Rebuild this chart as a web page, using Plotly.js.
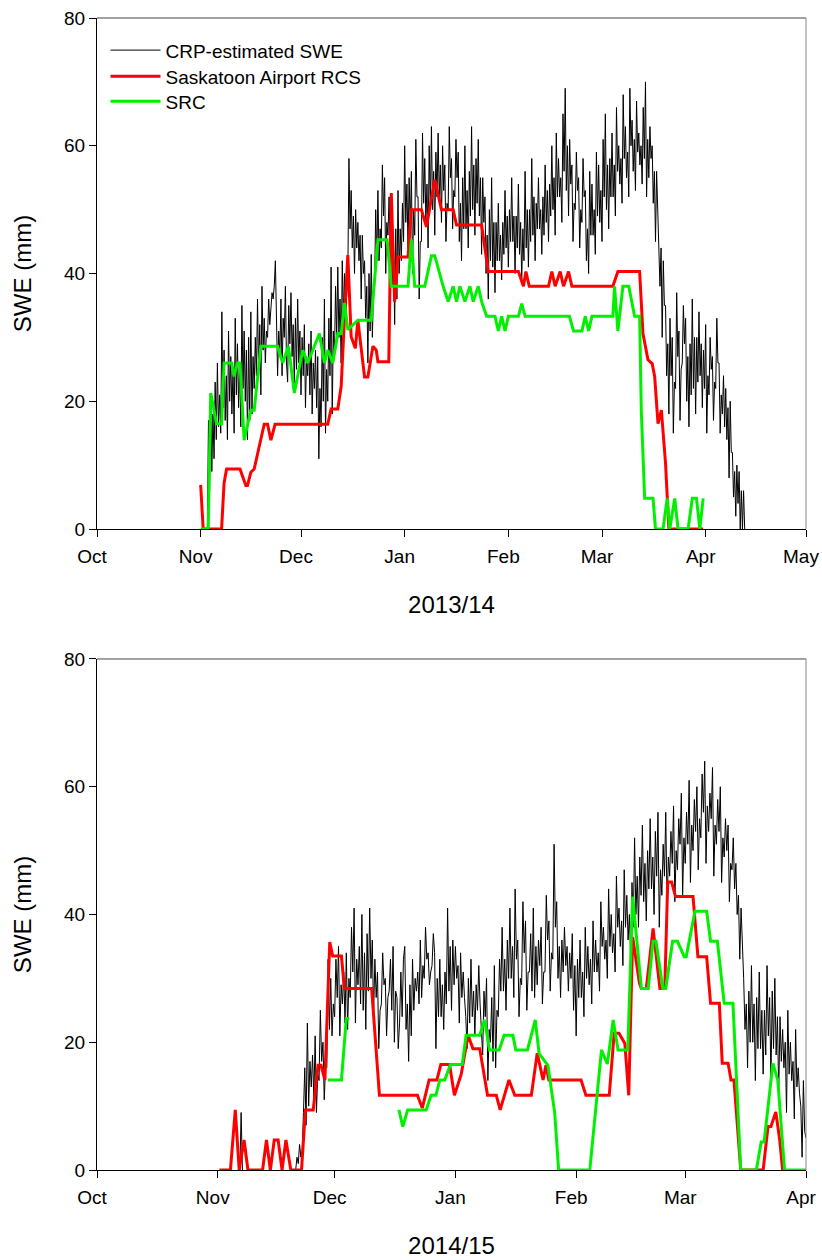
<!DOCTYPE html>
<html>
<head>
<meta charset="utf-8">
<title>CRP-estimated SWE vs. gauge SWE, Saskatoon</title>
<script src="https://cdn.plot.ly/plotly-3.0.1.min.js"></script>
<style>
  html, body { margin: 0; padding: 0; background: #ffffff; }
  #chart { width: 822px; height: 1260px; }
</style>
</head>
<body>
<div id="chart"></div>
<script>
// ---------------------------------------------------------------------------
// Axis ticks
// ---------------------------------------------------------------------------
const monthTicks1314 = ['2013-10-01', '2013-11-01', '2013-12-01', '2014-01-01', '2014-02-01', '2014-03-01', '2014-04-01', '2014-05-01'];
const monthLabels1314 = ['Oct', 'Nov', 'Dec', 'Jan', 'Feb', 'Mar', 'Apr', 'May'];
const monthTicks1415 = ['2014-10-01', '2014-11-01', '2014-12-01', '2015-01-01', '2015-02-01', '2015-03-01', '2015-04-01'];
const monthLabels1415 = ['Oct', 'Nov', 'Dec', 'Jan', 'Feb', 'Mar', 'Apr'];
const sweTicks = [0, 20, 40, 60, 80];

// ---------------------------------------------------------------------------
// CRP-estimated SWE (mm), 8-hourly readings (three per day)
// ---------------------------------------------------------------------------
const crpStepHours = 8;

const crpStart1314 = '2013-11-03 00:00';
const crpSwe1314 = [
  // Nov 3 - Nov 12
  0, 17, 6,  21, 9, 18,  11, 23, 14,  26, 16, 21,  15, 34, 19,
  28, 17, 24,  14, 31, 20,  27, 18, 25,  15, 33, 21,  29, 19, 26,
  // Nov 13 - Nov 22
  16, 35, 22,  31, 20, 28,  14, 30, 17,  34, 18, 27,  22, 30, 24,
  36, 24, 32,  21, 38, 28,  33, 26, 31,  30, 36, 32,  35, 37, 36,
  // Nov 23 - Dec 2
  38, 42, 29,  24, 31, 27,  36, 24, 33,  30, 38, 26,  23, 35, 29,
  37, 27, 32,  22, 33, 25,  36, 26, 31,  21, 30, 24,  32, 19, 27,
  // Dec 3 - Dec 12
  24, 29, 21,  31, 18, 26,  22, 28, 19,  27, 11, 22,  16, 30, 20,
  36, 15, 25,  20, 33, 24,  41, 18, 31,  27, 38, 30,  41, 30, 36,
  // Dec 13 - Dec 22
  26, 42, 33,  40, 33, 38,  40, 58, 47,  53, 44, 49,  40, 50, 44,
  48, 42, 46,  36, 46, 40,  42, 33, 38,  26, 40, 31,  43, 30, 37,
  // Dec 23 - Jan 1
  38, 50, 42,  53, 42, 47,  44, 57, 49,  55, 40, 48,  46, 52, 44,
  50, 38, 45,  32, 47, 36,  53, 40, 47,  42, 51, 45,  60, 48, 54,
  // Jan 2 - Jan 11
  44, 55, 47,  56, 40, 50,  46, 61, 52,  52, 36, 45,  45, 62, 51,
  58, 48, 54,  44, 60, 50,  63, 50, 56,  46, 59, 52,  62, 52, 57,
  // Jan 12 - Jan 21
  48, 60, 53,  57, 45, 51,  50, 63, 55,  58, 47, 53,  52, 61, 55,
  59, 45, 51,  42, 55, 47,  60, 47, 53,  44, 56, 49,  63, 50, 57,
  // Jan 22 - Jan 31
  46, 58, 51,  61, 49, 55,  43, 55, 48,  52, 40, 46,  36, 50, 42,
  55, 41, 48,  37, 48, 42,  51, 42, 46,  39, 48, 43,  53, 44, 49,
  // Feb 1 - Feb 10
  41, 50, 45,  55, 45, 49,  40, 49, 44,  54, 43, 48,  39, 47, 42,
  56, 44, 50,  41, 50, 45,  58, 46, 52,  42, 51, 47,  55, 47, 50,
  // Feb 11 - Feb 20
  43, 52, 46,  57, 48, 53,  45, 54, 49,  60, 50, 55,  46, 62, 52,
  58, 52, 55,  48, 65, 56,  69, 53, 60,  49, 61, 54,  57, 45, 51,
  // Feb 21 - Mar 2
  50, 59, 53,  55, 44, 50,  48, 58, 52,  53, 42, 47,  40, 56, 46,
  54, 46, 50,  43, 59, 49,  57, 48, 53,  45, 61, 52,  65, 50, 57,
  // Mar 3 - Mar 12
  47, 58, 52,  62, 52, 57,  49, 66, 56,  60, 54, 58,  51, 68, 58,
  63, 55, 59,  52, 69, 60,  64, 56, 61,  53, 67, 59,  62, 57, 60,
  // Mar 13 - Mar 22
  54, 66, 58,  70, 52, 61,  55, 63, 58,  60, 51, 56,  45, 56, 50,
  48, 38, 44,  30, 42, 35,  35, 24, 29,  18, 33, 24,  30, 15, 23,
  // Mar 23 - Apr 1
  22, 37, 27,  31, 17, 25,  26, 35, 29,  33, 20, 27,  16, 29, 21,
  36, 22, 30,  18, 30, 23,  34, 24, 29,  19, 28, 22,  32, 15, 24,
  // Apr 2 - Apr 12
  21, 30, 25,  27, 17, 23,  22, 33, 26,  26, 15, 21,  18, 24, 16,
  22, 14, 19,  8, 20, 12,  12, 5, 9,  2, 10, 4,  9, 0, 6,
  0, 6, 0
];

const crpStart1415Early = '2014-11-06 16:00';
const crpSwe1415Early = [0, 9, 0];

const crpStart1415 = '2014-11-21 00:00';
const crpSwe1415 = [
  // Nov 21 - Nov 30
  0, 2, 1,  4, 2, 3,  9, 16, 7,  23, 10, 17,  13, 18, 11,
  21, 9, 15,  14, 25, 17,  20, 11, 16,  16, 33, 22,  30, 21, 26,
  // Dec 1 - Dec 10
  24, 33, 27,  35, 21, 29,  26, 31, 23,  34, 22, 30,  27, 38, 31,
  41, 23, 33,  29, 35, 26,  40, 25, 34,  22, 37, 28,  41, 30, 36,
  // Dec 11 - Dec 20
  24, 33, 27,  31, 19, 25,  26, 34, 29,  30, 21, 27,  28, 33, 25,
  35, 20, 28,  27, 19, 23,  31, 24, 33,  35, 22, 26,  17, 29, 21,
  // Dec 21 - Dec 30
  33, 25, 30,  28, 31, 26,  36, 27, 32,  30, 38, 33,  34, 29, 31,
  32, 37, 34,  19, 30, 24,  33, 24, 29,  22, 31, 26,  41, 28, 35,
  // Dec 31 - Jan 9
  25, 36, 29,  35, 30, 32,  23, 34, 27,  31, 27, 24,  19, 30, 23,
  33, 24, 28,  21, 29, 25,  32, 26, 22,  18, 28, 24,  30, 14, 22,
  // Jan 10 - Jan 19
  20, 27, 17,  32, 16, 25,  24, 33, 28,  38, 28, 33,  25, 36, 30,
  41, 30, 35,  27, 44, 33,  36, 24, 30,  29, 42, 34,  39, 25, 31,
  // Jan 20 - Jan 29
  31, 37, 28,  41, 27, 35,  29, 36, 32,  38, 26, 31,  31, 43, 36,
  39, 28, 34,  33, 51, 38,  42, 30, 35,  27, 36, 31,  38, 32, 35,
  // Jan 30 - Feb 8
  28, 34, 30,  37, 25, 32,  21, 33, 27,  36, 27, 31,  24, 38, 30,
  35, 29, 33,  26, 39, 31,  36, 31, 34,  28, 42, 35,  38, 33, 36,
  // Feb 9 - Feb 18
  30, 44, 35,  40, 34, 37,  31, 46, 38,  41, 35, 39,  32, 47, 38,
  43, 36, 40,  33, 45, 38,  52, 40, 46,  38, 49, 43,  54, 42, 48,
  // Feb 19 - Feb 28
  39, 50, 44,  55, 44, 49,  40, 53, 46,  56, 38, 47,  43, 51, 46,
  56, 41, 49,  46, 53, 48,  57, 42, 50,  47, 55, 51,  59, 43, 52,
  // Mar 1 - Mar 10
  48, 56, 51,  61, 45, 54,  50, 58, 53,  60, 47, 55,  52, 62, 56,
  64, 48, 57,  53, 59, 55,  63, 46, 54,  51, 58, 53,  60, 45, 52,
  // Mar 11 - Mar 20
  49, 55, 50,  54, 42, 48,  47, 52, 44,  48, 40, 43,  33, 41, 36,
  30, 22, 26,  16, 28, 20,  32, 20, 26,  14, 27, 19,  31, 19, 25,
  // Mar 21 - Mar 31
  15, 25, 18,  32, 21, 27,  14, 28, 19,  30, 18, 24,  12, 24, 17,
  22, 16, 20,  9, 25, 15,  20, 14, 17,  8, 22, 13,  16, 12, 10,
  2, 14, 6,
  // Apr 1
  5
];

// ---------------------------------------------------------------------------
// Saskatoon Airport RCS SWE (mm)
// ---------------------------------------------------------------------------
const rcsDates1314 = [
  '2013-11-01 00:00', '2013-11-01 18:00', '2013-11-07 06:00', '2013-11-08 00:00', '2013-11-08 18:00',
  '2013-11-12 18:00', '2013-11-14 12:00', '2013-11-15 00:00', '2013-11-16 00:00', '2013-11-17 00:00',
  '2013-11-20 00:00', '2013-11-21 00:00', '2013-11-22 00:00', '2013-11-23 06:00', '2013-12-09 00:00',
  '2013-12-10 00:00', '2013-12-12 00:00', '2013-12-13 00:00', '2013-12-14 00:00', '2013-12-15 00:00',
  '2013-12-16 00:00', '2013-12-17 06:00', '2013-12-18 00:00', '2013-12-20 00:00', '2013-12-21 00:00',
  '2013-12-22 12:00', '2013-12-23 12:00', '2013-12-24 00:00', '2013-12-27 06:00', '2013-12-28 00:00',
  '2013-12-29 00:00', '2013-12-30 00:00', '2014-01-02 00:00', '2014-01-03 00:00', '2014-01-06 00:00',
  '2014-01-07 12:00', '2014-01-10 00:00', '2014-01-12 00:00', '2014-01-15 12:00', '2014-01-16 12:00',
  '2014-01-24 00:00', '2014-01-26 00:00', '2014-02-04 00:00', '2014-02-05 12:00', '2014-02-06 06:00',
  '2014-02-07 06:00', '2014-02-13 00:00', '2014-02-14 00:00', '2014-02-15 00:00', '2014-02-16 12:00',
  '2014-02-17 12:00', '2014-02-19 00:00', '2014-02-20 00:00', '2014-03-04 06:00', '2014-03-05 18:00',
  '2014-03-12 06:00', '2014-03-13 06:00', '2014-03-14 18:00', '2014-03-16 00:00', '2014-03-16 18:00',
  '2014-03-17 18:00', '2014-03-18 18:00', '2014-03-20 00:00', '2014-03-20 12:00', '2014-03-21 00:00',
  '2014-03-31 06:00'
];
const rcsSwe1314 = [
  6.9, 0, 0, 7.2, 9.4,
  9.4, 6.8, 6.8, 8.9, 9.4,
  16.4, 16.4, 13.9, 16.4, 16.4,
  18.8, 18.8, 22.3, 33, 42.9,
  30.1, 28.3, 32.7, 23.8, 23.8,
  28.6, 28, 26.2, 26.2, 52.6,
  35.6, 42.6, 42.6, 50, 50,
  47.3, 54.7, 50, 50, 47.6,
  47.6, 40.3, 40.3, 38, 40.3,
  38, 38, 40.3, 38, 40.3,
  38, 40.3, 38, 38, 40.3,
  40.3, 30.6, 26.5, 25.9, 23.9,
  16.5, 18.6, 10.3, 4.5, 0,
  0
];

const rcsDates1415 = [
  '2014-11-01 10:00', '2014-11-04 06:00', '2014-11-05 12:00', '2014-11-06 12:00', '2014-11-07 18:00',
  '2014-11-08 18:00', '2014-11-12 12:00', '2014-11-13 12:00', '2014-11-14 12:00', '2014-11-15 12:00',
  '2014-11-16 12:00', '2014-11-17 12:00', '2014-11-18 12:00', '2014-11-19 18:00', '2014-11-22 12:00',
  '2014-11-23 12:00', '2014-11-25 12:00', '2014-11-26 18:00', '2014-11-27 12:00', '2014-11-28 12:00',
  '2014-11-29 18:00', '2014-11-30 12:00', '2014-12-02 18:00', '2014-12-03 12:00', '2014-12-10 12:00',
  '2014-12-12 12:00', '2014-12-22 06:00', '2014-12-23 12:00', '2014-12-25 06:00', '2014-12-27 06:00',
  '2014-12-28 06:00', '2014-12-30 12:00', '2014-12-31 18:00', '2015-01-02 12:00', '2015-01-04 06:00',
  '2015-01-05 12:00', '2015-01-07 06:00', '2015-01-09 06:00', '2015-01-11 12:00', '2015-01-12 12:00',
  '2015-01-14 18:00', '2015-01-16 06:00', '2015-01-20 12:00', '2015-01-22 00:00', '2015-01-23 12:00',
  '2015-01-24 06:00', '2015-01-25 00:00', '2015-02-02 06:00', '2015-02-03 12:00', '2015-02-09 12:00',
  '2015-02-10 18:00', '2015-02-12 00:00', '2015-02-13 12:00', '2015-02-14 12:00', '2015-02-15 12:00',
  '2015-02-17 06:00', '2015-02-17 18:00', '2015-02-19 00:00', '2015-02-20 18:00', '2015-02-22 12:00',
  '2015-02-23 18:00', '2015-02-24 12:00', '2015-02-25 12:00', '2015-02-26 12:00', '2015-03-03 00:00',
  '2015-03-04 06:00', '2015-03-06 12:00', '2015-03-07 12:00', '2015-03-09 18:00', '2015-03-10 12:00',
  '2015-03-12 00:00', '2015-03-12 18:00', '2015-03-13 12:00', '2015-03-15 06:00', '2015-03-21 00:00',
  '2015-03-22 06:00', '2015-03-23 00:00', '2015-03-24 06:00', '2015-03-25 06:00', '2015-03-26 00:00'
];
const rcsSwe1415 = [
  0, 0, 9.4, 0, 4.7,
  0, 0, 4.7, 0, 4.7,
  4.7, 0, 4.7, 0, 0,
  9.4, 9.4, 16.4, 16.4, 14.1,
  35.7, 33.5, 33.5, 28.4, 28.4,
  11.7, 11.7, 9.7, 14.1, 14.1,
  16.5, 16.5, 11.7, 15, 21.1,
  19, 19, 11.7, 11.7, 9.4,
  14.1, 11.7, 11.7, 18.3, 14.1,
  16.4, 14.1, 14.1, 11.7, 11.7,
  21.4, 21.4, 19.8, 11.7, 36.5,
  29.2, 28.4, 28.4, 37.8, 28.4,
  28.4, 45.1, 45.1, 42.8, 42.8,
  33.4, 33.4, 26.1, 26.1, 16.7,
  16.7, 14.1, 14.1, 0, 0,
  6.8, 6.8, 9.1, 4.7, 0
];

// ---------------------------------------------------------------------------
// SRC SWE (mm); null marks a break in the record
// ---------------------------------------------------------------------------
const srcDates1314 = [
  '2013-11-01 00:00', '2013-11-03 06:00', '2013-11-04 00:00', '2013-11-05 18:00', '2013-11-07 06:00',
  '2013-11-08 00:00', '2013-11-10 06:00', '2013-11-11 00:00', '2013-11-12 00:00', '2013-11-12 18:00',
  '2013-11-14 00:00', '2013-11-16 00:00', '2013-11-17 00:00', '2013-11-19 00:00', '2013-11-24 00:00',
  '2013-11-25 12:00', '2013-11-27 06:00', '2013-11-29 00:00', '2013-12-01 12:00', '2013-12-03 00:00',
  '2013-12-06 12:00', '2013-12-08 00:00', '2013-12-09 00:00', '2013-12-10 12:00', '2013-12-12 00:00',
  '2013-12-13 00:00', '2013-12-14 00:00', '2013-12-15 00:00', '2013-12-18 00:00', '2013-12-22 00:00',
  '2013-12-24 00:00', '2013-12-26 18:00', '2013-12-28 00:00', '2014-01-02 00:00', '2014-01-03 00:00',
  '2014-01-04 00:00', '2014-01-07 00:00', '2014-01-09 00:00', '2014-01-10 00:00', '2014-01-12 12:00',
  '2014-01-14 00:00', '2014-01-15 12:00', '2014-01-16 12:00', '2014-01-17 12:00', '2014-01-19 00:00',
  '2014-01-20 12:00', '2014-01-21 12:00', '2014-01-23 00:00', '2014-01-24 00:00', '2014-01-25 12:00',
  '2014-01-28 00:00', '2014-01-29 00:00', '2014-01-30 00:00', '2014-01-31 00:00', '2014-02-01 00:00',
  '2014-02-04 00:00', '2014-02-05 00:00', '2014-02-06 00:00', '2014-02-19 06:00', '2014-02-20 12:00',
  '2014-02-23 00:00', '2014-02-24 00:00', '2014-02-25 00:00', '2014-02-26 00:00', '2014-03-04 06:00',
  '2014-03-04 18:00', '2014-03-05 18:00', '2014-03-07 06:00', '2014-03-09 00:00', '2014-03-10 18:00',
  '2014-03-12 06:00', '2014-03-12 18:00', '2014-03-13 18:00', '2014-03-16 06:00', '2014-03-17 00:00',
  '2014-03-19 06:00', '2014-03-20 12:00', '2014-03-21 06:00', '2014-03-22 18:00', '2014-03-23 18:00',
  '2014-03-26 18:00', '2014-03-28 00:00', '2014-03-29 06:00', '2014-03-30 06:00', '2014-03-31 06:00'
];
const srcSwe1314 = [
  0, 0, 21.3, 16.5, 16.5,
  26, 26, 23.9, 26, 26,
  13.9, 18.6, 18.6, 28.6, 28.6,
  26, 28.6, 21.3, 28, 26,
  30.6, 26, 28, 26, 30.6,
  30.6, 35.4, 31.2, 32.7, 32.7,
  45.3, 45.3, 38, 38, 45.3,
  38, 38, 42.8, 42.8, 38,
  35.6, 38, 35.6, 38, 35.6,
  38, 35.6, 38, 35.6, 33.3,
  33.3, 31, 33.3, 31, 33.3,
  33.3, 35.3, 33.3, 33.3, 31,
  31, 33.3, 31, 33.3, 33.3,
  38, 31, 38, 38, 33.3,
  33.3, 18.6, 4.8, 4.8, 0,
  0, 4.8, 0, 4.8, 0,
  0, 4.8, 4.8, 0, 4.8
];

const srcDates1415 = [
  '2014-11-29 06:00', '2014-12-02 18:00', '2014-12-04 00:00', '2014-12-04 18:00', '2014-12-10 00:00',
  '2014-12-17 12:00', '2014-12-18 12:00', '2014-12-19 18:00', '2014-12-24 12:00', '2014-12-25 18:00',
  '2014-12-27 00:00', '2014-12-28 00:00', '2014-12-29 06:00', '2014-12-30 18:00', '2015-01-02 18:00',
  '2015-01-03 18:00', '2015-01-07 06:00', '2015-01-08 12:00', '2015-01-09 18:00', '2015-01-12 06:00',
  '2015-01-13 12:00', '2015-01-15 18:00', '2015-01-16 12:00', '2015-01-19 12:00', '2015-01-21 12:00',
  '2015-01-22 12:00', '2015-01-24 18:00', '2015-01-26 12:00', '2015-01-27 12:00', '2015-02-04 12:00',
  '2015-02-07 12:00', '2015-02-09 00:00', '2015-02-10 12:00', '2015-02-11 18:00', '2015-02-14 06:00',
  '2015-02-15 12:00', '2015-02-17 18:00', '2015-02-19 12:00', '2015-02-20 18:00', '2015-02-21 12:00',
  '2015-02-23 06:00', '2015-02-24 00:00', '2015-02-25 18:00', '2015-02-27 00:00', '2015-02-28 18:00',
  '2015-03-01 06:00', '2015-03-03 12:00', '2015-03-06 12:00', '2015-03-07 12:00', '2015-03-09 06:00',
  '2015-03-11 00:00', '2015-03-13 06:00', '2015-03-15 06:00', '2015-03-19 06:00', '2015-03-20 12:00',
  '2015-03-21 06:00', '2015-03-23 12:00', '2015-03-24 18:00', '2015-03-26 12:00', '2015-04-01 00:00'
];
const srcSwe1415 = [
  14.1, 14.1, 23.7, 23.7, null,
  9.4, 6.8, 9.4, 9.4, 11.7,
  11.7, 14.1, 14.1, 16.5, 16.5,
  21.1, 21.1, 23.5, 18.8, 18.8,
  21.1, 21.1, 18.8, 18.8, 23.5,
  18.2, 16.4, 8.9, 0, 0,
  18.8, 16.6, 23.5, 18.8, 18.8,
  42.8, 28.4, 28.4, 35.8, 35.8,
  28.4, 28.4, 35.8, 35.8, 33.4,
  33.4, 40.5, 40.5, 35.8, 35.8,
  26.1, 26.1, 0, 0, 4.4,
  4.4, 16.7, 14.1, 0, 0
];

// ---------------------------------------------------------------------------
// Helpers and styles
// ---------------------------------------------------------------------------
function stepDates(start, n, hours) {
  const t0 = Date.parse(start.replace(' ', 'T') + ':00Z');
  const out = [];
  for (let i = 0; i < n; i++) {
    out.push(new Date(t0 + i * hours * 3600000).toISOString().slice(0, 16).replace('T', ' '));
  }
  return out;
}

const FONT = '"Liberation Sans", Arial, Helvetica, sans-serif';
const CRP_LINE = { color: '#000000', width: 1 };
const RCS_LINE = { color: '#ff0000', width: 3 };
const SRC_LINE = { color: '#00f000', width: 3 };

const NAMES = ['CRP-estimated SWE', 'Saskatoon Airport RCS', 'SRC'];

const data = [
  // 2013/14
  { type: 'scatter', mode: 'lines', name: NAMES[0], xaxis: 'x', yaxis: 'y', legend: 'legend',
    x: stepDates(crpStart1314, crpSwe1314.length, crpStepHours), y: crpSwe1314, line: CRP_LINE },
  { type: 'scatter', mode: 'lines', name: NAMES[1], xaxis: 'x', yaxis: 'y', legend: 'legend2',
    x: rcsDates1314, y: rcsSwe1314, line: RCS_LINE },
  { type: 'scatter', mode: 'lines', name: NAMES[2], xaxis: 'x', yaxis: 'y', legend: 'legend3',
    x: srcDates1314, y: srcSwe1314, line: SRC_LINE },
  // 2014/15
  { type: 'scatter', mode: 'lines', name: NAMES[0], xaxis: 'x2', yaxis: 'y2', showlegend: false,
    x: stepDates(crpStart1415Early, crpSwe1415Early.length, crpStepHours), y: crpSwe1415Early, line: CRP_LINE },
  { type: 'scatter', mode: 'lines', name: NAMES[0], xaxis: 'x2', yaxis: 'y2', showlegend: false,
    x: stepDates(crpStart1415, crpSwe1415.length, crpStepHours), y: crpSwe1415, line: CRP_LINE },
  { type: 'scatter', mode: 'lines', name: NAMES[1], xaxis: 'x2', yaxis: 'y2', showlegend: false,
    x: rcsDates1415, y: rcsSwe1415, line: RCS_LINE },
  { type: 'scatter', mode: 'lines', name: NAMES[2], xaxis: 'x2', yaxis: 'y2', showlegend: false,
    x: srcDates1415, y: srcSwe1415, line: SRC_LINE, connectgaps: false }
];

function xAxis(range, ticks, labels, title, anchor) {
  return {
    type: 'date', domain: [0, 1], anchor: anchor, range: range,
    tickmode: 'array', tickvals: ticks, ticktext: labels,
    ticks: 'outside', ticklen: 7, tickwidth: 1, tickcolor: '#000',
    ticklabelstandoff: 3, ticklabelshift: -5, ticklabeloverflow: 'allow',
    showline: true, linecolor: '#000', linewidth: 1,
    showgrid: false, zeroline: false, automargin: false,
    tickfont: { family: FONT, size: 19, color: '#000' },
    title: { text: title, font: { family: FONT, size: 24, color: '#000' }, standoff: 30 }
  };
}
function yAxis(domain, anchor) {
  return {
    domain: domain, anchor: anchor, range: [0, 80],
    tickmode: 'array', tickvals: sweTicks,
    ticks: 'outside', ticklen: 7, tickwidth: 1, tickcolor: '#000',
    showline: true, linecolor: '#000', linewidth: 1,
    showgrid: false, zeroline: false, automargin: false,
    tickfont: { family: FONT, size: 19, color: '#000' },
    title: { text: 'SWE (mm)', font: { family: FONT, size: 24, color: '#000' }, standoff: 25 }
  };
}
function frame(xr, yr) {
  return [
    { type: 'line', xref: xr + ' domain', yref: yr + ' domain', x0: 0, x1: 1, y0: 1, y1: 1,
      line: { color: '#444', width: 1 } },
    { type: 'line', xref: xr + ' domain', yref: yr + ' domain', x0: 1, x1: 1, y0: 0, y1: 1,
      line: { color: '#888', width: 1 } }
  ];
}
function legendBox(y) {
  return {
    x: 0.012, y: y, xanchor: 'left', yanchor: 'top',
    bgcolor: 'rgba(0,0,0,0)', borderwidth: 0, itemwidth: 50,
    font: { family: FONT, size: 19, color: '#000' }
  };
}

const layout = {
  width: 822, height: 1260,
  margin: { l: 97, r: 16, t: 18, b: 90, pad: 0 },
  paper_bgcolor: '#ffffff', plot_bgcolor: '#ffffff',
  font: { family: FONT, color: '#000' },
  showlegend: true,
  legend: legendBox(0.9885),
  legend2: legendBox(0.9659),
  legend3: legendBox(0.9442),
  xaxis: xAxis(['2013-10-01', '2014-05-01'], monthTicks1314, monthLabels1314, '2013/14', 'y'),
  yaxis: yAxis([0.5564, 1], 'x'),
  xaxis2: xAxis(['2014-10-01', '2015-04-01'], monthTicks1415, monthLabels1415, '2014/15', 'y2'),
  yaxis2: yAxis([0, 0.4436], 'x2'),
  shapes: frame('x', 'y').concat(frame('x2', 'y2'))
};

Plotly.newPlot('chart', data, layout, { staticPlot: true, displayModeBar: false });
</script>
</body>
</html>
